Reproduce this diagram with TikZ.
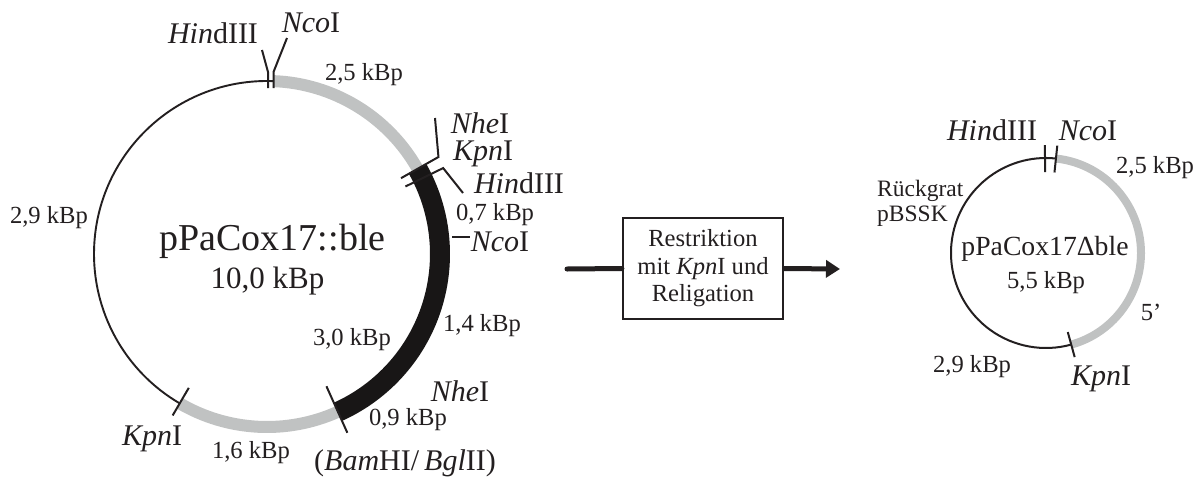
\documentclass[tikz,border=0pt]{standalone}
\usepackage{fontspec}
\setmainfont{Liberation Serif}
\usetikzlibrary{arrows.meta,calc}
\definecolor{segGray}{RGB}{192,194,194}
\definecolor{segBlack}{RGB}{24,22,22}
\definecolor{ink}{RGB}{35,31,32}

\begin{document}
\begin{tikzpicture}[x=1pt,y=1pt,
  lbl/.style={inner sep=0pt,anchor=base,text=ink,font=\fontsize{24.6}{27}\selectfont},
  enz/.style={inner sep=0pt,anchor=base,text=ink,font=\fontsize{30}{32}\selectfont},
  cut/.style={line width=2pt,draw=ink},
  backbone/.style={line width=1.9pt,draw=ink},
  insert/.style={line width=12pt,draw=segGray},
  marker/.style={line width=20pt,draw=segBlack},
  flow/.style={line width=5pt,draw=ink}]
\useasboundingbox (0,0) rectangle (1200,-477);

% ---------- pPaCox17::ble ----------
\coordinate (C1) at (267,-254);
\draw[backbone] ($(C1)+(88:173)$) arc[start angle=88,end angle=239.7,radius=173];
\draw[insert] ($(C1)+(88:173)$) arc[start angle=88,end angle=29.5,radius=173];
\draw[marker] ($(C1)+(29.5:173)$) arc[start angle=29.5,end angle=-65.8,radius=173];
\draw[insert] ($(C1)+(-65.8:173)$) arc[start angle=-65.8,end angle=-120.3,radius=173];

% cut sites at the top
\coordinate (hA) at (268,-72); \coordinate (hB) at (268,-88);
\coordinate (nA) at (273.5,-72); \coordinate (nB) at (273.5,-88);
\coordinate (hL) at (262,-50); \coordinate (nL) at (287,-38);
\draw[cut] (hB) -- (hA) -- (hL);
\draw[cut] (nB) -- (nA) -- (nL);

% cut sites on the right
\coordinate (k1i) at ($(C1)+(29.5:154)$); \coordinate (k1o) at ($(C1)+(29.5:197)$);
\coordinate (k2i) at ($(C1)+(26:154)$);   \coordinate (k2o) at ($(C1)+(26:196)$);
\coordinate (nheL) at (435,-118); \coordinate (hindL) at (463,-193);
\draw[cut] (k1i) -- (k1o) -- (nheL);
\draw[cut] (k2i) -- (k2o) -- (hindL);
\coordinate (ncoA) at (452,-237); \coordinate (ncoB) at (470,-237);
\draw[cut] (ncoA) -- (ncoB);

% cut sites at the bottom
\coordinate (bA) at ($(C1)+(-65.8:145)$); \coordinate (bB) at ($(C1)+(-65.8:196)$);
\draw[cut] (bA) -- (bB);
\coordinate (kA) at ($(C1)+(-120.3:155)$); \coordinate (kB) at ($(C1)+(-120.3:187)$);
\draw[cut] (kA) -- (kB);

% labels
\node[inner sep=0pt,anchor=base,text=ink,font=\fontsize{38}{40}\selectfont] (title1) at (272.5,-250) {pPaCox17::ble};
\node[inner sep=0pt,anchor=base,text=ink,font=\fontsize{31}{33}\selectfont] (size1) at (267.5,-288) {10,0 kBp};
\node[enz] (lHindTop) at (213,-43) {\textit{Hin}dIII};
\node[enz] (lNcoTop) at (311,-32) {\textit{Nco}I};
\node[lbl] (l25) at (364,-80) {2,5 kBp};
\node[enz] (lNheR) at (480,-133) {\textit{Nhe}I};
\node[enz] (lKpnR) at (483,-160) {\textit{Kpn}I};
\node[enz] (lHindR) at (519,-193) {\textit{Hin}dIII};
\node[lbl] (l07) at (495,-220) {0,7 kBp};
\node[enz] (lNcoR) at (500,-251) {\textit{Nco}I};
\node[lbl] (l14) at (482,-331) {1,4 kBp};
\node[lbl] (l30) at (352,-345) {3,0 kBp};
\node[enz] (lNheB) at (460,-401) {\textit{Nhe}I};
\node[lbl] (l09) at (408,-425) {0,9 kBp};
\node[enz] (lBam) at (405,-470) {(\textit{Bam}HI/\,\textit{Bgl}II)};
\node[lbl] (l16) at (251,-458) {1,6 kBp};
\node[enz] (lKpnB) at (152,-445) {\textit{Kpn}I};
\node[lbl] (l29) at (49,-223) {2,9 kBp};

% ---------- process step ----------
\node[draw=ink,line width=2.2pt,minimum width=160pt,minimum height=101pt,inner sep=0pt,
      align=center,text=ink,font=\fontsize{24.6}{27.5}\selectfont] (step1) at (703,-268.5)
      {Restriktion\\mit \textit{Kpn}I und\\Religation};
\coordinate (flowIn) at (567,-269);
\coordinate (flowOut) at (840,-269);
\draw[flow,line cap=round] (flowIn) -- (step1.west);
\draw[flow,-{Triangle[length=14pt,width=17pt]}] (step1.east) -- (flowOut);

% ---------- pPaCox17Δble ----------
\coordinate (C2) at (1046,-253);
\draw[backbone,line width=2pt] ($(C2)+(84:95)$) arc[start angle=84,end angle=285.4,radius=95];
\draw[line width=8pt,draw=segGray] ($(C2)+(84:95)$) arc[start angle=84,end angle=-74.6,radius=95];
\coordinate (sA) at ($(C2)+(90.6:108)$); \coordinate (sB) at ($(C2)+(90.6:81)$);
\coordinate (sC) at ($(C2)+(84:108)$);   \coordinate (sD) at ($(C2)+(84:81)$);
\coordinate (sE) at ($(C2)+(-74.6:82)$); \coordinate (sF) at ($(C2)+(-74.6:108)$);
\draw[cut] (sA) -- (sB);
\draw[cut] (sC) -- (sD);
\draw[cut] (sE) -- (sF);

\node[inner sep=0pt,anchor=base,text=ink,font=\fontsize{27.7}{30}\selectfont] (title2) at (1045,-255) {pPaCox17Δble};
\node[lbl] (size2) at (1046,-288) {5,5 kBp};
\node[enz] (sHind) at (992,-140) {\textit{Hin}dIII};
\node[enz] (sNco) at (1088,-140) {\textit{Nco}I};
\node[lbl] (s25) at (1155,-173) {2,5 kBp};
\node[lbl,anchor=base west,font=\fontsize{23.5}{26}\selectfont] (sRueck) at (877,-196) {Rückgrat};
\node[lbl,anchor=base west,font=\fontsize{23.5}{26}\selectfont] (sBSSK) at (877,-221) {pBSSK};
\node[lbl] (s5) at (1151,-320) {5’};
\node[lbl] (s29) at (972,-372) {2,9 kBp};
\node[enz] (sKpn) at (1101,-385) {\textit{Kpn}I};
\end{tikzpicture}
\end{document}
